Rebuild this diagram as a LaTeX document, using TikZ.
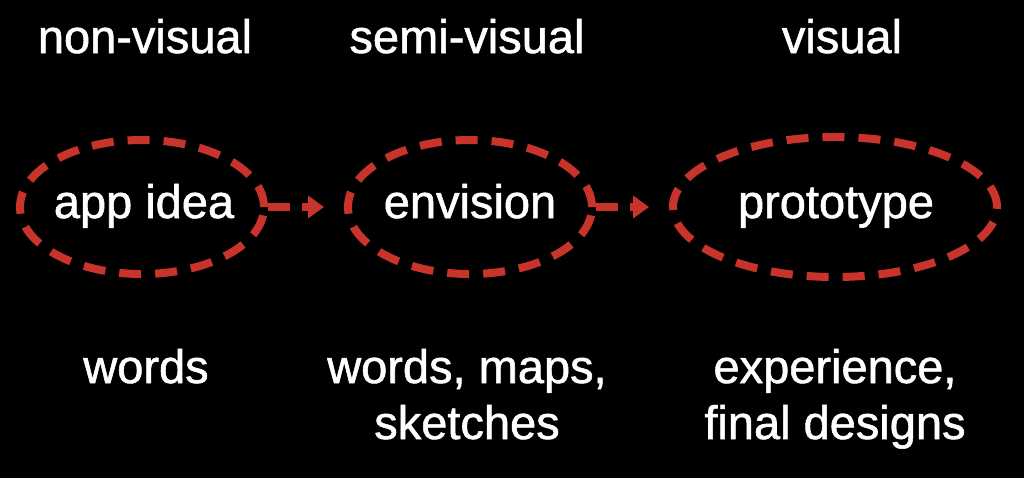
\documentclass[tikz,border=0pt]{standalone}
\usepackage{fontspec}
\setmainfont[FakeBold=1.2]{Liberation Sans}
\usetikzlibrary{shapes.geometric,arrows.meta}
\definecolor{dashred}{RGB}{200,52,44}
\tikzset{
	stage/.style={ellipse, draw=dashred, line width=4pt, dash pattern=on 11pt off 7pt, text=white, inner sep=0pt},
	lbl/.style={text=white, align=center, font=\fontsize{23.5}{28}\selectfont, inner sep=0pt},
	flow/.style={draw=dashred, line width=4pt, dash pattern=on 11pt off 6pt, -{Triangle[length=8pt,width=11pt]}, shorten >=10pt}
}
\begin{document}
\begin{tikzpicture}[x=0.5pt,y=-0.5pt]
					% Background
					\fill[black] (0,0) rectangle (1024,478);
					\useasboundingbox (0,0) rectangle (1024,478);
					% Column titles
					\node[lbl, anchor=base] (t1) at (145,53) {non-visual};
					\node[lbl, anchor=base] (t2) at (467,53) {semi-visual};
					\node[lbl, anchor=base] (t3) at (842,53) {visual};
					% Stages
					\node[stage, minimum width=122pt, minimum height=67pt] (idea) at (142,207) {};
					\node[stage, minimum width=122pt, minimum height=67pt] (envision) at (470,207) {};
					\node[stage, minimum width=162pt, minimum height=70pt] (proto) at (835,207) {};
					\node[lbl, anchor=base] (ideatxt) at (144,218) {app idea};
					\node[lbl, anchor=base] (envtxt) at (470,218) {envision};
					\node[lbl, anchor=base] (prototxt) at (836,218) {prototype};
					% Arrows
					\foreach \a/\b in {idea/envision, envision/proto}
						\draw[flow] (\a.east) -- (\b.west);
					% Media
					\node[lbl, anchor=base] (m1) at (146,383) {words};
					\node[lbl, anchor=base] (m2) at (467,439) {words, maps,\\sketches};
					\node[lbl, anchor=base] (m3) at (835,439) {experience,\\final designs};
\end{tikzpicture}
\end{document}
